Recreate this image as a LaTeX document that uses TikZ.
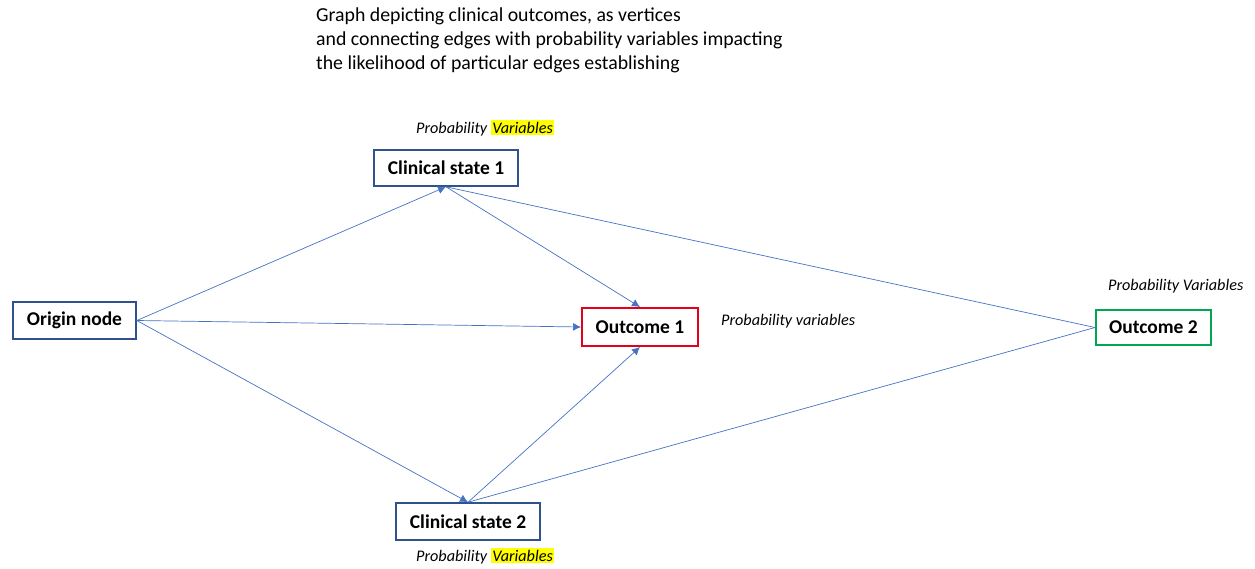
\documentclass[tikz,border=0pt]{standalone}
\usepackage{fontspec}
\setmainfont{Carlito}
\usepackage{tikz}
\usetikzlibrary{arrows.meta}
\usetikzlibrary{positioning}
\definecolor{edgeblue}{RGB}{68,114,196}
\definecolor{boxblue}{RGB}{47,82,143}
\definecolor{boxred}{RGB}{226,0,26}
\definecolor{boxgreen}{RGB}{0,166,81}
\definecolor{hl}{RGB}{255,255,0}
\tikzset{>={Latex[length=8pt,width=8pt]}}
\tikzset{
    state/.style = {draw=boxblue, line width=1.6pt, fill=white, font=\fontsize{19.5}{23}\selectfont\bfseries, inner sep=0pt},
    outcome/.style = {state, line width=2pt},
    prob/.style = {font=\fontsize{16.2}{19}\selectfont\itshape, inner sep=0pt},
    edge/.style = {edgeblue, line width=0.7pt},
    vis/.style = {edge, ->},
}
\newcommand\hlword[1]{{\setlength{\fboxsep}{1.5pt}\colorbox{hl}{#1}}}

\begin{document}
\begin{tikzpicture}[x=1pt,y=-1pt]
    \useasboundingbox (0,0) rectangle (1255,569);
    \node[anchor=north west, align=left, inner sep=0pt, font=\fontsize{19.8}{23.8}\selectfont] (title) at (316,8)
        {Graph depicting clinical outcomes, as vertices\\
         and connecting edges with probability variables impacting\\
         the likelihood of particular edges establishing};
    \node[state, minimum width=123pt, minimum height=37pt] (origin) at (74.5,320.5) {Origin node};
    \node[state, minimum width=144pt, minimum height=36pt] (cs1) at (446,168) {Clinical state 1};
    \node[state, minimum width=144pt, minimum height=37pt] (cs2) at (468,521.5) {Clinical state 2};
    \node[outcome, draw=boxred, minimum width=116pt, minimum height=38pt] (out1) at (640,327) {Outcome 1};
    \node[outcome, draw=boxgreen, minimum width=115pt, minimum height=35pt] (out2) at (1153.5,327.5) {Outcome 2};
    \node[prob, anchor=west] (p1) at (416,128) {Probability \hlword{Variables}};
    \node[prob, anchor=west] (p2) at (416,556) {Probability \hlword{Variables}};
    \node[prob, anchor=west] (p3) at (721,321) {Probability variables};
    \node[prob, anchor=west] (p4) at (1108,286) {Probability Variables};
    % edges
    \draw[vis] (origin.east) -- (cs1.south);
    \draw[vis] (origin.east) -- (out1.west);
    \draw[vis] (origin.east) -- (cs2.north);
    \draw[vis] (cs1.south) -- (out1.north);
    \draw[vis] (cs2.north) -- (out1.south);
    \draw[edge] (cs1.south) -- (out2.west);
    \draw[edge] (cs2.north) -- (out2.west);
\end{tikzpicture}
\end{document}
